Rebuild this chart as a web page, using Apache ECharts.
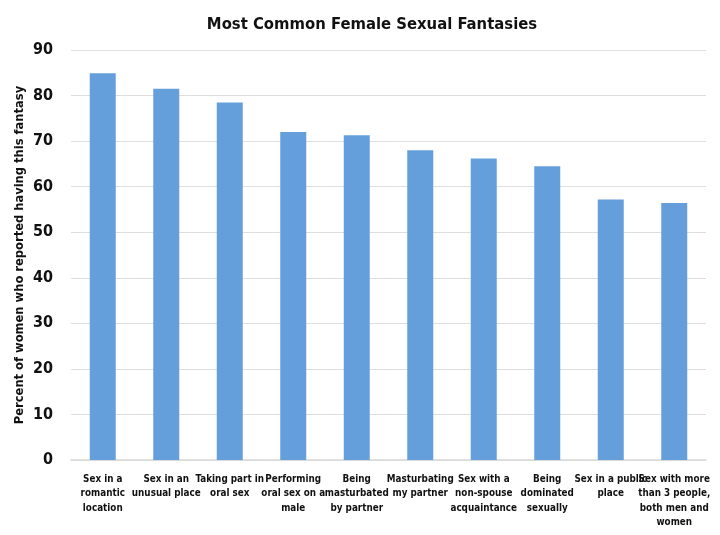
<!DOCTYPE html>
<html>
<head>
<meta charset="utf-8">
<script src="https://cdn.jsdelivr.net/npm/echarts@6/dist/echarts.min.js"></script>
<style>
  html, body { margin: 0; padding: 0; background: #fff; }
  #chart { width: 720px; height: 535px; }
</style>
</head>
<body>
<div id="chart"></div>
<script>
// data
var chartTitle = "Most Common Female Sexual Fantasies";
var yAxisName = "Percent of women who reported having this fantasy";
var categories = [
  "Sex in a\nromantic\nlocation",
  "Sex in an\nunusual place",
  "Taking part in\noral sex",
  "Performing\noral sex on a\nmale",
  "Being\nmasturbated\nby partner",
  "Masturbating\nmy partner",
  "Sex with a\nnon-spouse\nacquaintance",
  "Being\ndominated\nsexually",
  "Sex in a public\nplace",
  "Sex with more\nthan 3 people,\nboth men and\nwomen"
];
var percents = [84.9, 81.5, 78.5, 72, 71.3, 68, 66.2, 64.5, 57.2, 56.4];
var yTicks = [0, 10, 20, 30, 40, 50, 60, 70, 80, 90];

var narrow = "'DejaVu Sans Condensed', 'Liberation Sans Narrow', sans-serif";

var chart = echarts.init(document.getElementById("chart"));
var option = {
  animation: false,
  title: {
    text: chartTitle,
    left: 367,
    top: 11,
    textAlign: "center",
    textStyle: { fontFamily: narrow, fontSize: 16.5, fontWeight: "bold", color: "#111" }
  },
  grid: { left: 71, right: 14, top: 50, bottom: 75 },
  xAxis: {
    type: "category",
    data: categories,
    axisTick: { show: false },
    axisLine: { lineStyle: { color: "#d9d9d9", width: 1.5 } },
    axisLabel: {
      interval: 0,
      margin: 12,
      lineHeight: 14.5,
      fontFamily: narrow,
      fontSize: 9.8,
      fontWeight: "bold",
      color: "#111"
    }
  },
  yAxis: {
    type: "value",
    min: yTicks[0],
    max: yTicks[yTicks.length - 1],
    interval: 10,
    name: yAxisName,
    nameLocation: "middle",
    nameGap: 45,
    nameMoveOverlap: false,
    nameTextStyle: { fontFamily: narrow, fontSize: 12.8, fontWeight: "bold", color: "#111" },
    axisLine: { show: false },
    axisTick: { show: false },
    splitLine: { lineStyle: { color: "#dedede", width: 1.2 } },
    axisLabel: {
      margin: 18,
      fontFamily: narrow,
      fontSize: 16,
      fontWeight: "bold",
      color: "#111"
    }
  },
  series: [{
    type: "bar",
    data: percents,
    barWidth: 26,
    itemStyle: { color: "#659fdb" }
  }]
};
chart.setOption(option);
</script>
</body>
</html>
